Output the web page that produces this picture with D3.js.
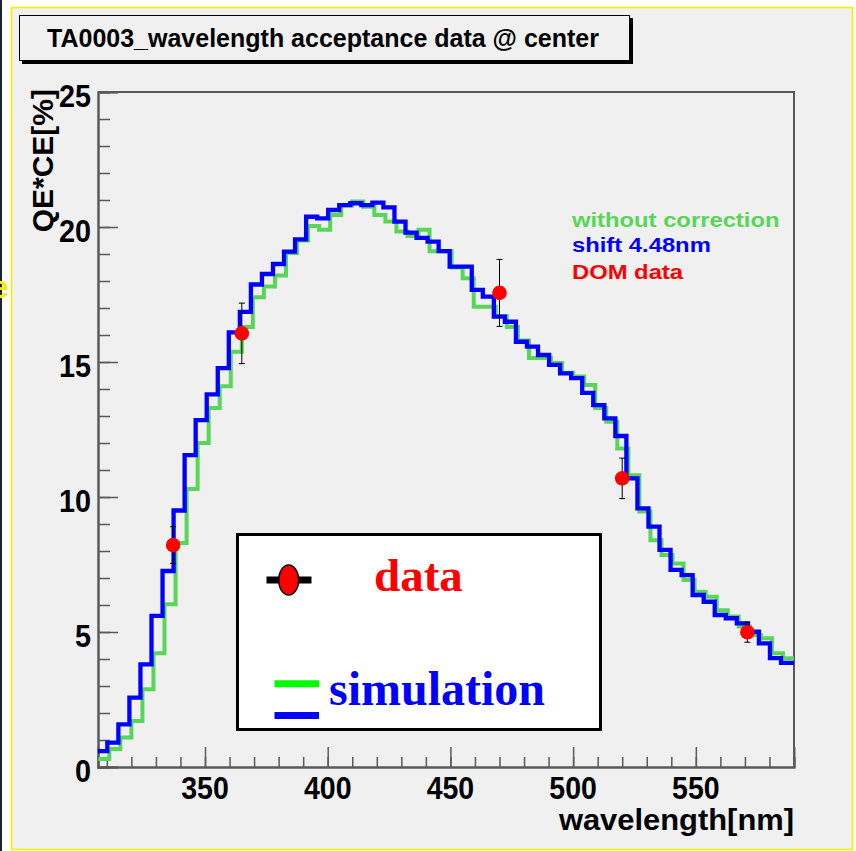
<!DOCTYPE html>
<html>
<head>
<meta charset="utf-8">
<script src="https://cdn.jsdelivr.net/npm/d3@7/dist/d3.min.js"></script>
<style>
  html, body { margin: 0; padding: 0; background: #fff; }
  svg { display: block; }
</style>
</head>
<body>
<script>
(function() {

    // Histogram binning in nm
    var binWidth = 4.5;
    var greenStart = 306.5;   // "without correction"
    var blueStart = 305.7;    // "shift 4.48nm"

    // QE*CE [%] per bin
    var greenValues = [
        0.3, 0.67, 1.09, 1.7, 2.88, 4.21, 6.03, 8.3, 10.3, 12.0,
        13.3, 14.1, 15.38, 16.3, 17.4, 17.8, 18.2, 19.04, 19.5, 20.04,
        19.9, 20.44, 20.8, 20.94, 20.75, 20.44, 20.2, 19.83, 19.67, 19.9,
        19.1, 19.1, 18.5, 18.1, 17.05, 17.05, 16.7, 16.3, 15.8, 15.15,
        15.15, 14.96, 14.6, 14.46, 14.15, 13.3, 12.79, 11.8, 10.81, 9.46,
        8.4, 7.85, 7.54, 6.93, 6.49, 6.31, 5.81, 5.57, 5.2, 4.89,
        4.77, 4.21, 4.03
    ];
    var blueValues = [
        0.59, 0.9, 1.58, 2.57, 3.8, 5.6, 7.26, 9.5, 11.55, 12.85,
        13.8, 14.77, 16.1, 16.86, 17.87, 18.26, 18.63, 19.09, 19.54, 20.38,
        20.32, 20.63, 20.81, 20.88, 20.81, 20.9, 20.73, 20.2, 19.79, 19.6,
        19.46, 19.11, 18.53, 18.53, 17.67, 17.42, 16.68, 16.49, 15.75, 15.57,
        15.26, 14.89, 14.58, 14.4, 13.86, 13.4, 12.91, 12.26, 10.69, 9.58,
        8.9, 8.04, 7.3, 7.11, 6.37, 6.12, 5.63, 5.51, 5.32, 5.01,
        4.58, 4.03, 3.86, 3.86
    ];

    // DOM measurements
    var domWavelength = [337, 365, 470, 520, 571];
    var domValue = [8.22, 16.06, 17.56, 10.69, 4.99];
    var domError = [0.68, 1.12, 1.24, 0.75, 0.37];

    // Axes
    var xDomain = [306.4, 590];
    var yDomain = [0, 25];
    var xTicks = [350, 400, 450, 500, 550];
    var yTicks = [0, 5, 10, 15, 20, 25];
    var xMinorTicks = d3.range(310, 591, 10);
    var yMinorTicks = d3.range(0, 26, 1);

    var titleText = 'TA0003_wavelength acceptance data @ center';
    var xTitle = 'wavelength[nm]';
    var yTitle = 'QE*CE[%]';
    var noteLines = ['without correction', 'shift 4.48nm', 'DOM data'];

    var width = 856, height = 851;
    var plot = {left: 98, right: 794, top: 92, bottom: 767};

    var greenColor = '#58d658', blueColor = '#0000ff', redColor = '#ff0000';
    var sans = '"Liberation Sans", Arial, Helvetica, sans-serif';
    var serif = '"Liberation Serif", "Times New Roman", serif';

    var x = d3.scaleLinear().domain(xDomain).range([plot.left, plot.right]);
    var y = d3.scaleLinear().domain(yDomain).range([plot.bottom, plot.top]);

    var svg = d3.select('body').append('svg')
        .attr('width', width)
        .attr('height', height);

    // text helper with horizontal squeeze
    function txt(parent, px, py, s, o) {
        var tr = 'translate(' + px + ',' + py + ')';
        if (o.rotate) tr += ' rotate(' + o.rotate + ')';
        tr += ' scale(' + (o.sx || 1) + ',1)';
        return parent.append('text')
            .attr('transform', tr)
            .attr('text-anchor', o.anchor || 'start')
            .attr('fill', o.fill || '#000')
            .style('font-family', o.family || sans)
            .style('font-weight', 'bold')
            .style('font-size', o.size + 'px')
            .text(s);
    }

    // Canvas background and frame
    svg.append('rect').attr('width', width).attr('height', height).attr('fill', '#fff');
    svg.append('rect')
        .attr('x', 11.5).attr('y', 7.5)
        .attr('width', 841).attr('height', 842)
        .attr('fill', '#f0f0f0')
        .attr('stroke', '#f2f000').attr('stroke-width', 1.6);
    svg.append('line')
        .attr('x1', 1).attr('x2', 1).attr('y1', 0).attr('y2', height)
        .attr('stroke', '#1b2333').attr('stroke-width', 2);
    svg.append('text')
        .attr('x', -9).attr('y', 298)
        .attr('fill', '#f5ee00')
        .style('font-family', sans).style('font-weight', 'bold').style('font-size', '32px')
        .text('e');

    // Title box
    svg.append('rect')
        .attr('x', 22).attr('y', 18).attr('width', 611).attr('height', 46)
        .attr('fill', '#000');
    svg.append('rect')
        .attr('x', 19.5).attr('y', 15.5).attr('width', 610).attr('height', 45)
        .attr('fill', '#f0f0f0').attr('stroke', '#000').attr('stroke-width', 1);
    txt(svg, 323, 47, titleText, {size: 25, sx: 1.0, anchor: 'middle'});

    // Clip for histograms
    svg.append('clipPath').attr('id', 'plot-clip')
      .append('rect')
        .attr('x', plot.left).attr('y', plot.top)
        .attr('width', plot.right - plot.left).attr('height', plot.bottom - plot.top);

    // Axes (ticks point inwards)
    var axisColor = '#5a5a5a';
    var gx = svg.append('g').attr('transform', 'translate(0,' + plot.bottom + ')');
    gx.call(d3.axisBottom(x).tickValues(xMinorTicks).tickSize(-10).tickFormat(''));
    gx.append('g').call(d3.axisBottom(x).tickValues(xTicks).tickSize(-20).tickFormat(''));
    var gy = svg.append('g').attr('transform', 'translate(' + plot.left + ',0)');
    gy.call(d3.axisLeft(y).tickValues(yMinorTicks).tickSize(-12).tickFormat(''));
    gy.append('g').call(d3.axisLeft(y).tickValues(yTicks).tickSize(-20).tickFormat(''));
    svg.selectAll('.domain').attr('stroke', axisColor).attr('stroke-width', 2);
    svg.selectAll('.tick line').attr('stroke', axisColor).attr('stroke-width', 1.5);

    // frame: top and right
    svg.append('path')
        .attr('d', 'M' + plot.left + ',' + plot.top + 'H' + plot.right + 'V' + plot.bottom)
        .attr('fill', 'none').attr('stroke', axisColor).attr('stroke-width', 2);

    // Tick labels
    xTicks.forEach(function(t) {
        txt(svg, x(t), 799, String(t), {size: 31, sx: 0.92, anchor: 'middle'});
    });
    yTicks.forEach(function(t) {
        txt(svg, 91, y(t) + 14.5, String(t), {size: 32, sx: 0.9, anchor: 'end'});
    });

    // Axis titles
    txt(svg, 794, 830, xTitle, {size: 30, sx: 1.03, anchor: 'end'});
    txt(svg, 53, 89, yTitle, {size: 30, anchor: 'end', rotate: -90});

    // Histograms as step lines
    function stepPoints(start, values) {
        var pts = values.map(function(v, i) { return [start + i * binWidth, v]; });
        pts.push([start + values.length * binWidth, values[values.length - 1]]);
        return pts;
    }
    var step = d3.line()
        .x(function(d) { return x(d[0]); })
        .y(function(d) { return y(d[1]); })
        .curve(d3.curveStepAfter);

    var hist = svg.append('g').attr('clip-path', 'url(#plot-clip)');
    hist.append('path')
        .datum(stepPoints(greenStart, greenValues))
        .attr('d', step)
        .attr('fill', 'none').attr('stroke', greenColor).attr('stroke-width', 4);
    hist.append('path')
        .datum(stepPoints(blueStart, blueValues))
        .attr('d', step)
        .attr('fill', 'none').attr('stroke', blueColor).attr('stroke-width', 4.3);

    // DOM data points with error bars
    var dom = domWavelength.map(function(w, i) {
        return {w: w, v: domValue[i], e: domError[i]};
    });
    var pts = svg.append('g').selectAll('g').data(dom).enter().append('g');
    pts.append('line')
        .attr('x1', function(d) { return x(d.w); })
        .attr('x2', function(d) { return x(d.w); })
        .attr('y1', function(d) { return y(d.v - d.e); })
        .attr('y2', function(d) { return y(d.v + d.e); })
        .attr('stroke', '#000').attr('stroke-width', 1);
    [-1, 1].forEach(function(s) {
        pts.append('line')
            .attr('x1', function(d) { return x(d.w) - 3; })
            .attr('x2', function(d) { return x(d.w) + 3; })
            .attr('y1', function(d) { return y(d.v + s * d.e); })
            .attr('y2', function(d) { return y(d.v + s * d.e); })
            .attr('stroke', '#000').attr('stroke-width', 1);
    });
    pts.append('circle')
        .attr('cx', function(d) { return x(d.w); })
        .attr('cy', function(d) { return y(d.v); })
        .attr('r', 7.3)
        .attr('fill', redColor);

    // Top-right notes
    var noteColors = [greenColor, blueColor, redColor];
    var noteBase = [226.5, 252, 278.5];
    noteLines.forEach(function(s, i) {
        txt(svg, 572, noteBase[i], s, {size: 20, sx: 1.19, fill: noteColors[i]});
    });

    // Legend box
    var lg = svg.append('g');
    lg.append('rect')
        .attr('x', 237.5).attr('y', 534.5).attr('width', 363).attr('height', 195)
        .attr('fill', '#fff').attr('stroke', '#000').attr('stroke-width', 3);
    lg.append('line')
        .attr('x1', 266.5).attr('x2', 311.5).attr('y1', 580).attr('y2', 580)
        .attr('stroke', '#000').attr('stroke-width', 7);
    lg.append('ellipse')
        .attr('cx', 288.7).attr('cy', 580).attr('rx', 10).attr('ry', 15)
        .attr('fill', redColor).attr('stroke', '#000').attr('stroke-width', 1.5);
    txt(lg, 374, 591, 'data', {size: 47, family: serif, fill: redColor});
    lg.append('line')
        .attr('x1', 274.5).attr('x2', 319).attr('y1', 683.7).attr('y2', 683.7)
        .attr('stroke', '#00ff00').attr('stroke-width', 7);
    lg.append('line')
        .attr('x1', 274.5).attr('x2', 319).attr('y1', 715.5).attr('y2', 715.5)
        .attr('stroke', blueColor).attr('stroke-width', 7);
    txt(lg, 329, 705, 'simulation', {size: 48, family: serif, fill: blueColor});

})();
</script>
</body>
</html>
